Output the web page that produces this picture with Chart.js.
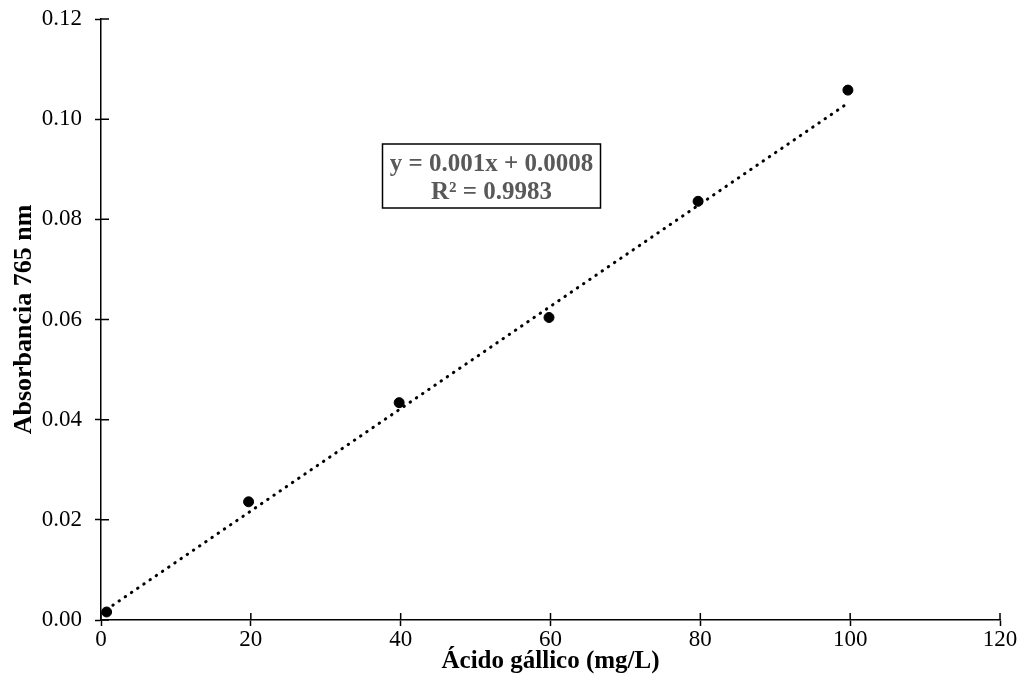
<!DOCTYPE html>
<html>
<head>
<meta charset="utf-8">
<script src="https://cdn.jsdelivr.net/npm/chart.js@4"></script>
<style>
  body { margin: 0; background: #fff; }
  canvas { display: block; }
</style>
</head>
<body>
<canvas id="curva" width="1027" height="700"></canvas>
<script>
// Calibration data
const concentracion = [0.75, 19.7, 39.8, 59.8, 79.7, 99.7];
const absorbancia = [0.0016, 0.0236, 0.0434, 0.0604, 0.0836, 0.1058];

// Trendline end points as drawn in the original
const tendenciaX = [0.75, 99.7];
const tendenciaY = [0.0021, 0.1032];

const ecuacion = ["y = 0.001x + 0.0008", "R\u00B2 = 0.9983"];

const puntos = concentracion.map((x, i) => ({ x: x, y: absorbancia[i] }));
const tendencia = tendenciaX.map((x, i) => ({ x: x, y: tendenciaY[i] }));

const serif = "'Liberation Serif', 'Times New Roman', serif";

// Inner half of the tick marks + equation box
const extras = {
  id: "extras",
  afterDraw(chart) {
    const ctx = chart.ctx;
    const xs = chart.scales.x;
    const ys = chart.scales.y;
    const area = chart.chartArea;
    ctx.save();
    ctx.strokeStyle = "#000";
    ctx.lineWidth = 1.5;
    ctx.beginPath();
    ys.ticks.forEach(t => {
      const py = ys.getPixelForValue(t.value);
      ctx.moveTo(area.left, py);
      ctx.lineTo(area.left + 8, py);
    });
    xs.ticks.forEach(t => {
      const px = xs.getPixelForValue(t.value);
      ctx.moveTo(px, area.bottom);
      ctx.lineTo(px, area.bottom - 7);
    });
    ctx.stroke();

    // equation box
    const bx = 382.5, by = 144, bw = 218, bh = 64;
    ctx.lineWidth = 1.5;
    ctx.strokeRect(bx, by, bw, bh);
    ctx.fillStyle = "#595959";
    ctx.font = "bold 25px " + serif;
    ctx.textAlign = "center";
    ctx.textBaseline = "alphabetic";
    ctx.fillText(ecuacion[0], bx + bw / 2, 171);
    ctx.fillText(ecuacion[1], bx + bw / 2, 199);
    ctx.restore();
  }
};

new Chart(document.getElementById("curva"), {
  type: "scatter",
  data: {
    datasets: [
      {
        label: "Absorbancia",
        data: puntos,
        backgroundColor: "#000",
        borderColor: "#000",
        pointRadius: 5,
        pointHoverRadius: 5,
        order: 1
      },
      {
        label: "Lineal",
        type: "line",
        data: tendencia,
        borderColor: "#000",
        borderWidth: 3,
        borderDash: [0.5, 7],
        borderCapStyle: "round",
        pointRadius: 0,
        fill: false,
        order: 2
      }
    ]
  },
  options: {
    responsive: false,
    animation: false,
    devicePixelRatio: 1,
    layout: { padding: { top: 19, right: 27, bottom: 0, left: 0 } },
    plugins: {
      legend: { display: false },
      tooltip: { enabled: false }
    },
    scales: {
      x: {
        type: "linear",
        min: 0,
        max: 120,
        afterFit: scale => { scale.height = 80; },
        ticks: {
          stepSize: 20,
          color: "#000",
          padding: 0,
          font: { family: serif, size: 23 }
        },
        grid: {
          drawOnChartArea: false,
          tickLength: 6,
          tickWidth: 1.5,
          tickColor: "#000"
        },
        border: { color: "#000", width: 1.5 },
        title: {
          display: true,
          text: "\u00C1cido g\u00E1llico (mg/L)",
          color: "#000",
          padding: { top: 0, bottom: 23 },
          font: { family: serif, size: 25, weight: "bold" }
        }
      },
      y: {
        min: 0,
        max: 0.12,
        afterFit: scale => {
          scale.width = 101;
          scale.paddingTop = 0;
          scale.paddingBottom = 0;
        },
        ticks: {
          stepSize: 0.02,
          color: "#000",
          padding: 13,
          font: { family: serif, size: 23 },
          callback: v => v.toFixed(2)
        },
        grid: {
          drawOnChartArea: false,
          tickLength: 6,
          tickWidth: 1.5,
          tickColor: "#000"
        },
        border: { color: "#000", width: 1.5 },
        title: {
          display: true,
          text: "Absorbancia 765 nm",
          color: "#000",
          padding: { top: 9, bottom: 0 },
          font: { family: serif, size: 26, weight: "bold" }
        }
      }
    }
  },
  plugins: [extras]
});
</script>
</body>
</html>
